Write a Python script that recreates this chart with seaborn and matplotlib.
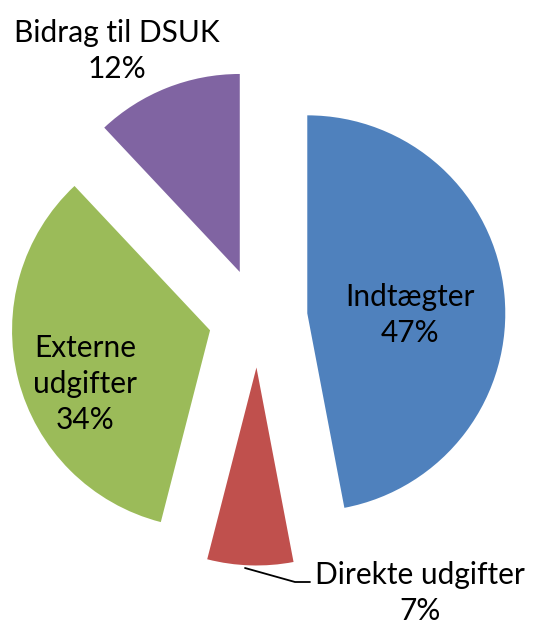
import matplotlib
matplotlib.use("Agg")
import matplotlib.pyplot as plt
import seaborn as sns

# data
labels = ["Indtægter", "Direkte udgifter", "Externe udgifter", "Bidrag til DSUK"]
shares = [47, 7, 34, 12]
colors = ["#4F81BD", "#C0504D", "#9BBB59", "#8064A2"]

sns.set_theme(style="white")
plt.rcParams["font.family"] = ["Lato", "DejaVu Sans"]

W, H = 536, 626
R = 198.0          # pie radius in pixels
cx, cy = 258, 318  # pie centre in pixels

fig = plt.figure(figsize=(W / 100, H / 100), dpi=100)
ax = fig.add_axes([0, 0, 1, 1])
ax.pie(shares, colors=colors, startangle=90, counterclock=False,
       explode=[0.25] * 4, radius=1, center=(0, 0),
       wedgeprops=dict(linewidth=0))
ax.set_xlim(-cx / R, (W - cx) / R)
ax.set_ylim(-(H - cy) / R, cy / R)
ax.set_aspect("equal")
ax.axis("off")


def px(x, y):
    return (x - cx) / R, (cy - y) / R


txt = dict(ha="center", va="center", fontsize=21.5, color="black", linespacing=1.35)
ax.text(*px(410, 315), "Indtægter\n47%", **txt)
ax.text(*px(85, 384), "Externe\nudgifter\n34%", **txt)
ax.text(*px(117, 51), "Bidrag til DSUK\n12%", **txt)
ax.text(*px(420, 593), "Direkte udgifter\n7%", **txt)

# leader line for the small slice
lx = [px(245, 568)[0], px(295, 582)[0], px(310, 582)[0]]
ly = [px(245, 568)[1], px(295, 582)[1], px(310, 582)[1]]
ax.plot(lx, ly, color="black", linewidth=1.3)

fig.savefig("out.png", dpi=100)
